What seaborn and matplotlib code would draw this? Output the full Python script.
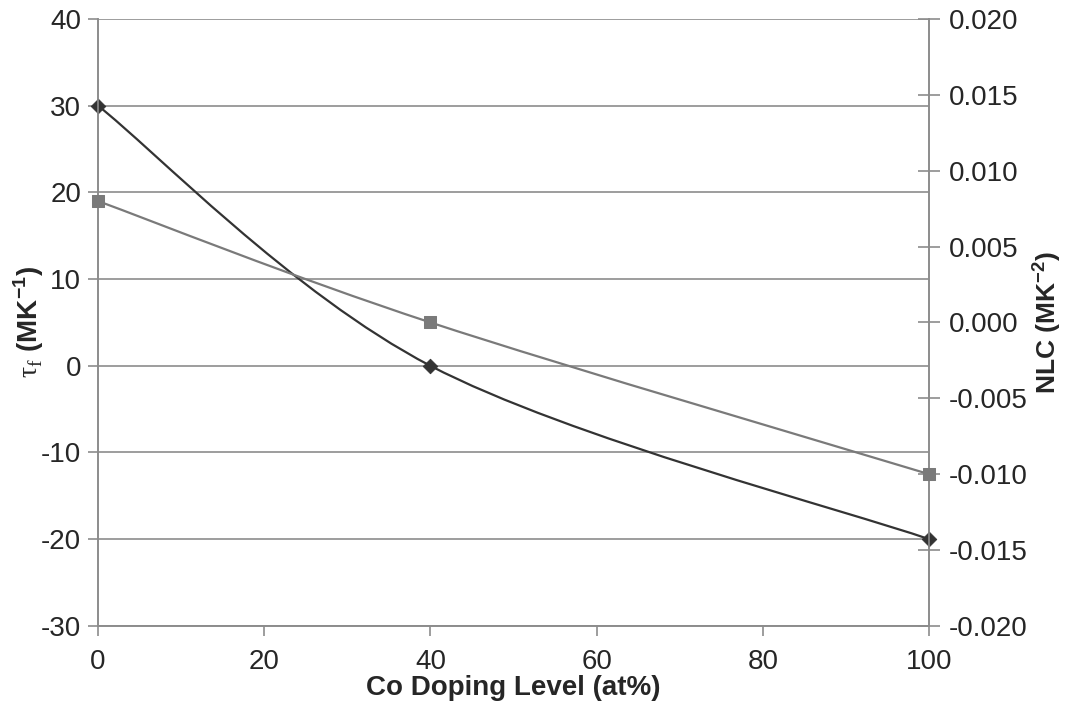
import matplotlib
matplotlib.use("Agg")
import matplotlib.pyplot as plt
from matplotlib.path import Path
from matplotlib.patches import PathPatch
import numpy as np
import seaborn as sns

# data
co_level = [0, 40, 100]
tau_f = [30, 0, -20]          # left axis, MK^-1
nlc = [0.008, 0.000, -0.010]  # right axis, MK^-2

tau_ticks = [-30, -20, -10, 0, 10, 20, 30, 40]
nlc_ticks = [-0.020, -0.015, -0.010, -0.005, 0.000, 0.005, 0.010, 0.015, 0.020]
x_ticks = [0, 20, 40, 60, 80, 100]

sns.set_style("white")
plt.rcParams["font.family"] = ["Liberation Sans", "DejaVu Sans"]
plt.rcParams["axes.unicode_minus"] = False
plt.rcParams["mathtext.fontset"] = "custom"
plt.rcParams["mathtext.rm"] = "Liberation Serif"
plt.rcParams["mathtext.bf"] = "Liberation Sans:bold"

dark = "#333333"
gray = "#7a7a7a"
axis_gray = "#8c8c8c"


def smooth_path(xs, ys):
    # excel-style smoothed line: cubic bezier through the given points
    pts = np.column_stack([xs, ys]).astype(float)
    verts = [pts[0]]
    codes = [Path.MOVETO]
    n = len(pts)
    for i in range(n - 1):
        p_prev = pts[max(i - 1, 0)]
        p0, p1 = pts[i], pts[i + 1]
        p_next = pts[min(i + 2, n - 1)]
        c1 = p0 + (p1 - p_prev) / 6
        c2 = p1 - (p_next - p0) / 6
        verts += [c1, c2, p1]
        codes += [Path.CURVE4] * 3
    return Path(verts, codes)


fig = plt.figure(figsize=(10.65, 7.04), dpi=100)
ax = fig.add_axes([0.092, 0.111, 0.7803, 0.862])
ax2 = ax.twinx()

# left axis series
ax.add_patch(PathPatch(smooth_path(co_level, tau_f), fill=False, edgecolor=dark, lw=1.6, zorder=3))
sns.scatterplot(x=co_level, y=tau_f, marker="D", s=55, color=dark, edgecolor=dark, ax=ax,
                zorder=4, clip_on=False)

# right axis series
ax2.add_patch(PathPatch(smooth_path(co_level, nlc), fill=False, edgecolor=gray, lw=1.6, zorder=3))
sns.scatterplot(x=co_level, y=nlc, marker="s", s=85, color=gray, edgecolor=gray, ax=ax2,
                zorder=4, clip_on=False)

ax.set_xlim(0, 100)
ax.set_ylim(-30, 40)
ax2.set_ylim(-0.020, 0.020)

ax.set_xticks(x_ticks)
ax.set_yticks(tau_ticks)
ax2.set_yticks(nlc_ticks)
ax2.set_yticklabels([f"{v:.3f}" for v in nlc_ticks])

ax.grid(axis="y", color=axis_gray, lw=1.2)
ax.grid(axis="x", visible=False)
ax.set_axisbelow(True)

for a in (ax, ax2):
    a.spines["top"].set_visible(False)
    for side in ("left", "right", "bottom"):
        a.spines[side].set_color(axis_gray)
        a.spines[side].set_linewidth(1.2)

ax.tick_params(axis="x", direction="out", length=7, width=1.2, color=axis_gray,
               labelsize=20, pad=10, bottom=True)
ax.tick_params(axis="y", direction="out", length=7, width=1.2, color=axis_gray,
               labelsize=20, pad=5, left=True)
ax2.tick_params(axis="y", direction="inout", length=16, width=1.2, color=axis_gray,
                labelsize=20, pad=6, right=True)

ax.set_xlabel("Co Doping Level (at%)", fontsize=20, fontweight="bold", labelpad=0)
ax.set_ylabel(r"$\mathrm{\tau}_{\mathrm{f}}$ (MK$^{\mathbf{-1}}$)", fontsize=20, fontweight="bold")
ax.yaxis.set_label_coords(-0.062, 0.5)
ax2.set_ylabel(r"NLC (MK$^{\mathbf{-2}}$)", fontsize=19, fontweight="bold", rotation=90, labelpad=2)

fig.savefig("out.png", dpi=100, facecolor="white")
